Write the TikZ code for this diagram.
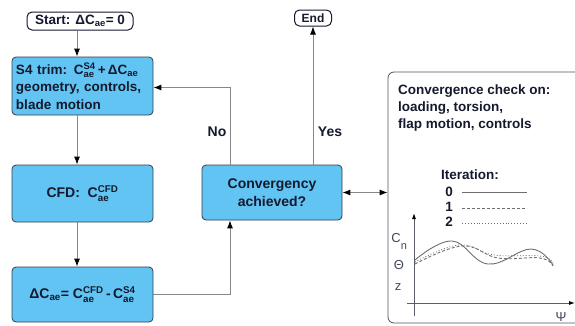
\documentclass[tikz,border=0pt]{standalone}
\usepackage{fontspec}
\usepackage{amsmath}
\setmainfont{Liberation Sans}
\usetikzlibrary{arrows.meta}
\definecolor{boxblue}{RGB}{98,196,243}
\definecolor{ink}{RGB}{20,25,45}
\definecolor{wirec}{RGB}{135,135,135}
\definecolor{curvec}{RGB}{110,110,110}
\newcommand{\Cs}[2]{C$^{\text{#1}}_{\text{#2}}$}
\begin{document}
\begin{tikzpicture}[x=1pt,y=-1pt,
  font=\fontsize{14}{17.5}\selectfont\bfseries,
  proc/.style={draw=ink!85, fill=boxblue, rounded corners=4pt, line width=0.8pt,
    text=ink, minimum width=141pt, inner sep=0pt, align=center},
  term/.style={draw=ink, fill=white, rounded corners=5pt, line width=1pt,
    text=ink, inner sep=0pt},
  wire/.style={draw=wirec, line width=0.9pt},
  arr/.style={wire, -{Latex[length=8pt,width=6pt,color=black]}},
  darr/.style={wire, {Latex[length=8pt,width=6pt,color=black]}-{Latex[length=8pt,width=6pt,color=black]}},
  lbl/.style={text=ink, inner sep=0pt},
  axlbl/.style={text=ink!80, inner sep=0pt, font=\fontsize{13}{15}\selectfont},
  curve/.style={draw=curvec, line width=0.9pt},
  axis/.style={draw=ink!70, line width=0.9pt, -{Latex[length=6pt,width=4pt,color=black]}}
]
\useasboundingbox (0,0) rectangle (575,325);

% nodes
\node[term, minimum width=106pt, minimum height=18pt, font=\fontsize{13.5}{16}\selectfont\bfseries] (start) at (80,21) {Start: ΔC$_{\text{ae}}$= 0};
\node[term, minimum width=37pt, minimum height=16pt, font=\fontsize{12}{14}\selectfont\bfseries] (end) at (313,18) {End};
\node[proc, minimum height=58pt, text width=133pt, align=left, font=\fontsize{13.5}{17.5}\selectfont\bfseries] (s4) at (82.5,86)
  {\mbox{S4 trim: \Cs{S4}{ae}\,+\,ΔC$_{\text{ae}}$}\\geometry, controls,\\blade motion};
\node[proc, minimum height=57pt] (cfd) at (82.5,193.5) {CFD:\ \ \Cs{CFD}{ae}};
\node[proc, minimum height=55pt] (dc) at (82.5,294.5) {ΔC$_{\text{ae}}$= \Cs{CFD}{ae}\,-\,\Cs{S4}{ae}};
\node[proc, minimum width=140pt, minimum height=55pt] (conv) at (272,192.5) {Convergency\\achieved?};
\node[draw=ink!75, rounded corners=6pt, line width=0.8pt, minimum width=200pt, minimum height=251pt, inner sep=0pt] (panel) at (488,197.5) {};

% column coordinates
\coordinate (colx) at (77,0);
\coordinate (nox) at (230,0);

% connectors
\draw[arr] (start.south -| colx) -- (s4.north -| colx);
\draw[arr] (s4.south -| colx) -- (cfd.north -| colx);
\draw[arr] (cfd.south -| colx) -- (dc.north -| colx);
\draw[arr] (dc.east) -| (conv.south -| nox);
\draw[arr] (conv.north -| nox) |- ([yshift=-1.5pt]s4.east);
\draw[arr] (conv.north -| end.south) -- (end.south);
\draw[darr] (conv.east) -- (conv.east -| panel.west);

\node[lbl] (no) at (217,132) {No};
\node[lbl] (yes) at (330,132) {Yes};

% panel content
\node[lbl, anchor=north west, align=left, font=\fontsize{13.5}{17}\selectfont\bfseries] (ptext) at (398,85)
  {Convergence check on:\\loading, torsion,\\flap motion, controls};
\node[lbl, anchor=base west, font=\fontsize{13.5}{16}\selectfont\bfseries] (iter) at (441,179) {Iteration:};
\node[lbl, font=\fontsize{13.5}{16}\selectfont\bfseries] (i0) at (449,191.5) {0};
\node[lbl, font=\fontsize{13.5}{16}\selectfont\bfseries] (i1) at (449,207) {1};
\node[lbl, font=\fontsize{13.5}{16}\selectfont\bfseries] (i2) at (449,222) {2};
\coordinate (l0a) at (462,192); \coordinate (l0b) at (527,192);
\coordinate (l1a) at (462,208); \coordinate (l1b) at (527,208);
\coordinate (l2a) at (462,223); \coordinate (l2b) at (527,223);
\draw[curve] (l0a) -- (l0b);
\draw[curve, dash pattern=on 3pt off 2pt] (l1a) -- (l1b);
\draw[curve, dotted, line width=0.8pt] (l2a) -- (l2b);

% axes
\coordinate (ybot) at (414,316); \coordinate (ytop) at (414,213);
\coordinate (xl) at (407,303); \coordinate (xr) at (575,303);
\draw[axis] (ybot) -- (ytop);
\draw[axis] (xl) -- (xr);
\node[axlbl] (cn) at (396,238) {C};
\node[axlbl, font=\fontsize{11}{13}\selectfont] (cnn) at (404,247) {n};
\node[axlbl] (theta) at (399,265) {Θ};
\node[axlbl] (zz) at (398,287) {z};
\node[axlbl] (psi) at (561,317) {Ψ};

% curves
\draw[curve] plot[smooth, tension=0.7] coordinates {(415,260) (452,241) (488,264) (531,249) (553,265)};
\draw[curve, dash pattern=on 3pt off 2pt] plot[smooth, tension=0.7] coordinates {(415,264) (462,246) (498,258) (540,258) (553,266)};
\draw[curve, dotted, line width=0.8pt] plot[smooth, tension=0.7] coordinates {(415,262) (459,245) (494,255) (540,256) (553,263)};
\end{tikzpicture}
\end{document}
